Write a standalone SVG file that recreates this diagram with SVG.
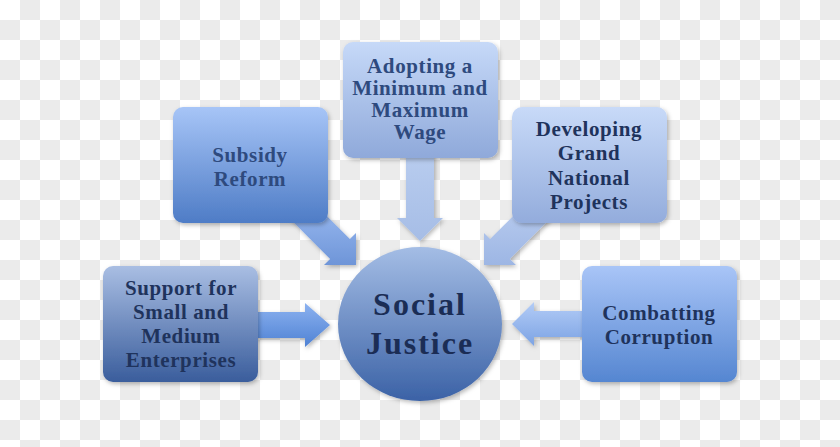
<svg xmlns="http://www.w3.org/2000/svg" width="840" height="447" viewBox="0 0 840 447">
<defs>
<pattern id="checker" width="40" height="40" patternUnits="userSpaceOnUse">
<rect width="40" height="40" fill="#ffffff"/>
<rect x="20" y="0" width="20" height="20" fill="#ebebeb"/>
<rect x="0" y="20" width="20" height="20" fill="#ebebeb"/>
</pattern>
<filter id="sh" x="-20%" y="-20%" width="140%" height="140%">
<feDropShadow dx="1.5" dy="2" stdDeviation="2" flood-color="#000" flood-opacity="0.28"/>
</filter>
<linearGradient id="gSupport" x1="0" y1="0" x2="0" y2="1"><stop offset="0" stop-color="#a9bee3"/><stop offset="1" stop-color="#3a5d9c"/></linearGradient>
<linearGradient id="gSubsidy" x1="0" y1="0" x2="0" y2="1"><stop offset="0" stop-color="#a7c5f7"/><stop offset="1" stop-color="#4e7cc6"/></linearGradient>
<linearGradient id="gAdopt" x1="0" y1="0" x2="0" y2="1"><stop offset="0" stop-color="#c6d9f8"/><stop offset="1" stop-color="#8fa9da"/></linearGradient>
<linearGradient id="gDevelop" x1="0" y1="0" x2="0" y2="1"><stop offset="0" stop-color="#c8daf8"/><stop offset="1" stop-color="#93acdc"/></linearGradient>
<linearGradient id="gCombat" x1="0" y1="0" x2="0" y2="1"><stop offset="0" stop-color="#a9c5f7"/><stop offset="1" stop-color="#5586d1"/></linearGradient>
<linearGradient id="gCircle" x1="0" y1="0" x2="0" y2="1"><stop offset="0" stop-color="#a4bde5"/><stop offset="1" stop-color="#3b62a6"/></linearGradient>
<linearGradient id="aLeft" x1="0" y1="0" x2="0" y2="1"><stop offset="0" stop-color="#8cb2f0"/><stop offset="1" stop-color="#4f82d4"/></linearGradient>
<linearGradient id="aRight" x1="0" y1="0" x2="0" y2="1"><stop offset="0" stop-color="#b3ccf6"/><stop offset="1" stop-color="#7ca3e4"/></linearGradient>
<linearGradient id="aDown" x1="0" y1="0" x2="0" y2="1"><stop offset="0" stop-color="#b9cdef"/><stop offset="1" stop-color="#a6bde6"/></linearGradient>
<linearGradient id="aDiagL" x1="0" y1="0" x2="0" y2="1"><stop offset="0" stop-color="#92b3ec"/><stop offset="1" stop-color="#6e95d8"/></linearGradient>
<linearGradient id="aDiagR" x1="0" y1="0" x2="0" y2="1"><stop offset="0" stop-color="#b4c8ed"/><stop offset="1" stop-color="#9db6e4"/></linearGradient>
</defs>
<style>
.box{filter:url(#sh);}
.arrow{filter:url(#sh);}
.t{font-family:"Liberation Serif","Times New Roman",serif;font-weight:bold;font-size:21px;fill:#1f335c;text-anchor:middle;letter-spacing:0.6px;}
.big{font-size:32px;letter-spacing:2px;fill:#1b2d55;}
.light{fill:#2e4a7e;}
</style>
<rect width="840" height="447" fill="url(#checker)"/>
<g id="connectors">
<polygon class="arrow" fill="url(#aLeft)" points="250,312 305,312 305,303 330,325 305,347 305,338 250,338"/>
<polygon class="arrow" fill="url(#aRight)" points="590,311 534,311 534,302 512,324 534,346 534,337 590,337"/>
<polygon class="arrow" fill="url(#aDown)" points="406,150 434,150 434,218 443,218 420,241 397,218 406,218"/>
<polygon class="arrow" fill="url(#aDiagL)" points="325.8,215 349.9,239.1 356,233 356,265 324,265 330.1,258.9 286.2,215"/>
<polygon class="arrow" fill="url(#aDiagR)" points="514.2,215 490.1,239.1 484,233 484,265 516,265 509.9,258.9 553.8,215"/>
</g>
<g id="support">
<rect class="box" x="103" y="266" width="155" height="116" rx="10" fill="url(#gSupport)"/>
<text class="t" x="181" y="295">Support for</text>
<text class="t" x="181" y="319">Small and</text>
<text class="t" x="181" y="343">Medium</text>
<text class="t" x="181" y="367">Enterprises</text>
</g>
<g id="subsidy">
<rect class="box" x="173" y="107" width="155" height="116" rx="10" fill="url(#gSubsidy)"/>
<text class="t light" x="250" y="162">Subsidy</text>
<text class="t light" x="250" y="186">Reform</text>
</g>
<g id="adopting">
<rect class="box" x="343" y="42" width="155" height="116" rx="10" fill="url(#gAdopt)"/>
<text class="t light" x="420" y="73">Adopting a</text>
<text class="t light" x="420" y="95">Minimum and</text>
<text class="t light" x="420" y="117">Maximum</text>
<text class="t light" x="420" y="139">Wage</text>
</g>
<g id="developing">
<rect class="box" x="512" y="107" width="155" height="116" rx="10" fill="url(#gDevelop)"/>
<text class="t" x="589" y="136">Developing</text>
<text class="t" x="589" y="160">Grand</text>
<text class="t" x="589" y="185">National</text>
<text class="t" x="589" y="209">Projects</text>
</g>
<g id="combatting">
<rect class="box" x="582" y="266" width="155" height="116" rx="10" fill="url(#gCombat)"/>
<text class="t" x="659" y="320">Combatting</text>
<text class="t" x="659" y="344">Corruption</text>
</g>
<g id="social-justice">
<ellipse class="box" cx="420" cy="324" rx="82" ry="77" fill="url(#gCircle)"/>
<text class="t big" x="420" y="315">Social</text>
<text class="t big" x="420" y="354">Justice</text>
</g>
</svg>
